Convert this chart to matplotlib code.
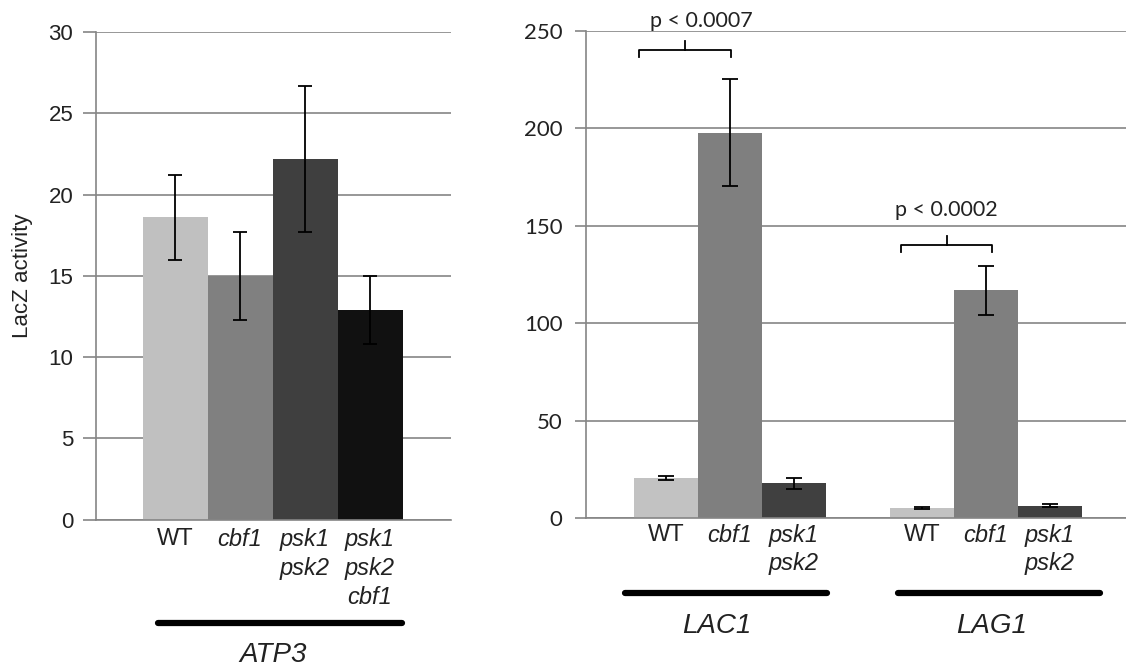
import matplotlib
matplotlib.use("Agg")
import matplotlib.pyplot as plt

# -------------------------
# Data
# -------------------------
atp3_labels = ["WT", "cbf1", "psk1\npsk2", "psk1\npsk2\ncbf1"]
atp3_values = [18.6, 15.0, 22.2, 12.9]
atp3_errors = [2.6, 2.7, 4.5, 2.1]
atp3_colors = ["#c0c0c0", "#808080", "#3f3f3f", "#111111"]

strains = ["WT", "cbf1", "psk1\npsk2"]
lac1_values = [20.7, 197.6, 17.8]
lac1_errors = [1.0, 27.5, 2.9]
lag1_values = [5.3, 116.9, 6.3]
lag1_errors = [0.5, 12.5, 0.7]
strain_colors = ["#c2c2c2", "#7f7f7f", "#404040"]

atp3_ticks = [0, 5, 10, 15, 20, 25, 30]
right_ticks = [0, 50, 100, 150, 200, 250]

GRID = "#858585"

fig = plt.figure(figsize=(11.26, 6.69), dpi=100)


def style_axes(ax, ticks, tick_len, pad, fontsize, family):
    ax.set_yticks(ticks)
    ax.set_ylim(ticks[0], ticks[-1])
    ax.yaxis.grid(True, color=GRID, lw=1.2)
    ax.set_axisbelow(True)
    for side in ["top", "right"]:
        ax.spines[side].set_visible(False)
    for side in ["left", "bottom"]:
        ax.spines[side].set_color(GRID)
        ax.spines[side].set_linewidth(1.2)
    ax.set_xticks([])
    ax.tick_params(axis="y", length=tick_len, width=1.2, color=GRID, pad=pad,
                   labelsize=fontsize)
    for lab in ax.get_yticklabels():
        lab.set_family(family)
        lab.set_color("#222222")


def category_labels(ax, xs, labels, y, size, spacing):
    tr = ax.get_xaxis_transform()
    for x, lab in zip(xs, labels):
        style = "normal" if lab == "WT" else "italic"
        ax.text(x, y, lab, transform=tr, ha="center", va="top", fontsize=size,
                style=style, linespacing=spacing, family="Liberation Sans",
                color="#222222")


def group_bar(ax, x0, x1, y_line, label, x_text, y_text):
    tr = ax.get_xaxis_transform()
    ax.plot([x0, x1], [y_line, y_line], color="black", lw=4.5,
            transform=tr, clip_on=False, solid_capstyle="round")
    ax.text(x_text, y_text, label, transform=tr, ha="center", va="center",
            fontsize=20, style="italic", family="Liberation Sans", color="#222222")


def bracket(ax, x0, x1, xc, y, drop, rise, text, tx, ty):
    ax.plot([x0, x0, x1, x1], [y - drop, y, y, y - drop], color="black",
            lw=1.3, clip_on=False)
    ax.plot([xc, xc], [y, y + rise], color="black", lw=1.3, clip_on=False)
    ax.text(tx, ty, text, ha="center", va="center",
            fontsize=15.5, family="Lato", color="#222222")


# -------------------------
# Left panel: ATP3
# -------------------------
axl = fig.add_axes([0.0853, 0.2233, 0.3153, 0.7289])
xl = list(range(len(atp3_values)))
axl.bar(xl, atp3_values, width=1.0, color=atp3_colors, zorder=2)
axl.errorbar(xl, atp3_values, yerr=atp3_errors, fmt="none", ecolor="black",
             elinewidth=1.3, capsize=5, capthick=1.3, zorder=3)
axl.set_xlim(-1.215, 4.246)
style_axes(axl, atp3_ticks, 9.4, 7, 16, "Liberation Sans")
axl.set_ylabel("LacZ activity", fontsize=16, family="Liberation Sans",
               color="#222222", labelpad=11)
category_labels(axl, xl, atp3_labels, -0.018, 17, 1.32)
group_bar(axl, -0.26, 3.49, -0.212, "ATP3", 1.51, -0.278)

# -------------------------
# Right panel: LAC1 / LAG1
# -------------------------
axr = fig.add_axes([0.5204, 0.2257, 0.4796, 0.7284])
x_lac = [0, 1, 2]
x_lag = [4, 5, 6]
axr.bar(x_lac, lac1_values, width=1.0, color=strain_colors, zorder=2)
axr.bar(x_lag, lag1_values, width=1.0, color=strain_colors, zorder=2)
axr.errorbar(x_lac, lac1_values, yerr=lac1_errors, fmt="none", ecolor="black",
             elinewidth=1.3, capsize=6, capthick=1.3, zorder=3)
axr.errorbar(x_lag, lag1_values, yerr=lag1_errors, fmt="none", ecolor="black",
             elinewidth=1.3, capsize=6, capthick=1.3, zorder=3)
axr.set_xlim(-1.25, 7.19)
style_axes(axr, right_ticks, 8, 9, 16, "Lato")
category_labels(axr, x_lac + x_lag, strains + strains, -0.012, 17, 1.3)
group_bar(axr, -0.64, 2.52, -0.1545, "LAC1", 0.8, -0.2216)
group_bar(axr, 3.63, 6.78, -0.1545, "LAG1", 5.09, -0.2216)

bracket(axr, -0.42, 1.02, 0.3, 240, 3.6, 4.5, "p < 0.0007", 0.55, 255)
bracket(axr, 3.67, 5.09, 4.39, 140, 3.6, 4.5, "p < 0.0002", 4.375, 158)

fig.savefig("out.png", dpi=100)
